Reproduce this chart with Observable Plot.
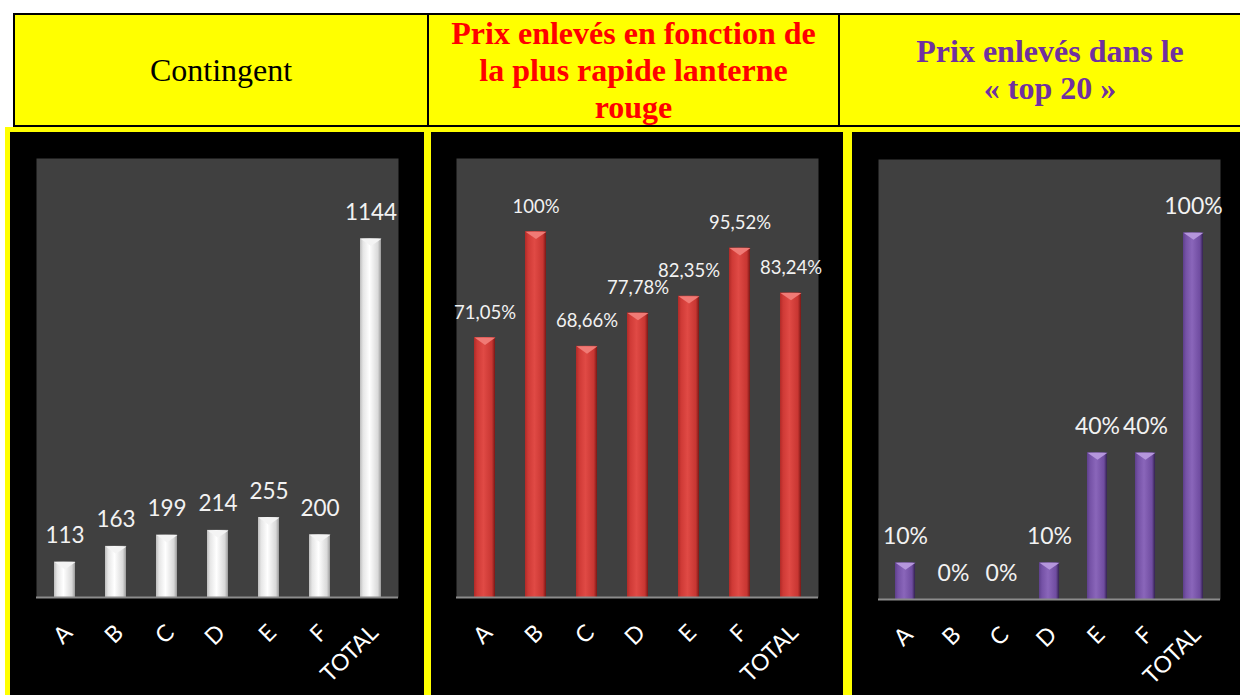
<!DOCTYPE html>
<html>
<head>
<meta charset="utf-8">
<script src="https://cdn.jsdelivr.net/npm/d3@7"></script>
<script src="https://cdn.jsdelivr.net/npm/@observablehq/plot@0.6"></script>
<style>
  html, body { margin: 0; padding: 0; background: #ffffff; width: 1240px; height: 695px; overflow: hidden; }
  #root { position: relative; width: 1240px; height: 695px; overflow: hidden; }
  #header { position: absolute; left: 13px; top: 13px; width: 1245px; height: 110px; border: 2px solid #000; background: #ffff00; }
  .cell { position: absolute; top: 0; height: 110px; display: flex; align-items: center; justify-content: center; text-align: center; font-family: "Liberation Serif", "Times New Roman", serif; }
  #c1 { left: 0; width: 412px; border-right: 2px solid #000; font-size: 32px; color: #000; }
  #c2 { left: 414px; width: 409px; border-right: 2px solid #000; font-size: 32px; font-weight: bold; color: #ff0000; line-height: 37px; }
  #c3 { left: 825px; width: 420px; font-size: 32px; font-weight: bold; color: #7030a0; line-height: 37px; }
  #panels { position: absolute; left: 5px; top: 127px; width: 1240px; height: 570px; background: #ffff00; }
  .plot { position: absolute; top: 132px; }
  .plot svg { display: block; }
</style>
</head>
<body>
<div id="root">
  <svg width="0" height="0" style="position:absolute">
    <defs>
      <linearGradient id="gWhite" x1="0" x2="1" y1="0" y2="0">
        <stop offset="0" stop-color="#bdbdbd"/>
        <stop offset="0.15" stop-color="#e6e6e6"/>
        <stop offset="0.45" stop-color="#ffffff"/>
        <stop offset="0.85" stop-color="#d9d9d9"/>
        <stop offset="1" stop-color="#9a9a9a"/>
      </linearGradient>
      <linearGradient id="gRed" x1="0" x2="1" y1="0" y2="0">
        <stop offset="0" stop-color="#b02a27"/>
        <stop offset="0.15" stop-color="#cf3a36"/>
        <stop offset="0.45" stop-color="#e04a45"/>
        <stop offset="0.85" stop-color="#c83632"/>
        <stop offset="1" stop-color="#7a1816"/>
      </linearGradient>
      <linearGradient id="gPurple" x1="0" x2="1" y1="0" y2="0">
        <stop offset="0" stop-color="#5e3f8c"/>
        <stop offset="0.15" stop-color="#7552a6"/>
        <stop offset="0.45" stop-color="#8a66ba"/>
        <stop offset="0.85" stop-color="#6f4ca0"/>
        <stop offset="1" stop-color="#33224f"/>
      </linearGradient>
    </defs>
  </svg>
  <div id="header">
    <div class="cell" id="c1">Contingent</div>
    <div class="cell" id="c2">Prix enlevés en fonction de<br>la plus rapide lanterne<br>rouge</div>
    <div class="cell" id="c3">Prix enlevés dans le<br>« top 20 »</div>
  </div>
  <div id="panels"></div>
  <div class="plot" id="p1" style="left:10px"></div>
  <div class="plot" id="p2" style="left:431px"></div>
  <div class="plot" id="p3" style="left:852px"></div>
</div>
<script>
const categories = ["A", "B", "C", "D", "E", "F", "TOTAL"];
const contingent = [113, 163, 199, 214, 255, 200, 1144];
const contingentLabels = ["113", "163", "199", "214", "255", "200", "1144"];
const rapide = [0.7105, 1.0, 0.6866, 0.7778, 0.8235, 0.9552, 0.8324];
const rapideLabels = ["71,05%", "100%", "68,66%", "77,78%", "82,35%", "95,52%", "83,24%"];
const top20 = [0.10, 0, 0, 0.10, 0.40, 0.40, 1.0];
const top20Labels = ["10%", "0%", "0%", "10%", "40%", "40%", "100%"];

// flat inverted triangle used as the bevel cap on top of each bar
const capSymbol = {
  draw(context, size) {
    const r = Math.sqrt(size / Math.PI);
    context.moveTo(-r, 0);
    context.lineTo(r, 0);
    context.lineTo(0, r * 0.7);
    context.closePath();
  }
};

function panel({values, labels, domain, grad, capFill, width, height, mt, mr, mb, ml, labelSize, capR}) {
  const data = categories.map((c, i) => ({cat: c, v: values[i], label: labels[i]}));
  return Plot.plot({
    width, height,
    marginTop: mt, marginRight: mr, marginBottom: mb, marginLeft: ml,
    style: {background: "#000000", fontFamily: "Lato, 'Open Sans', sans-serif", overflow: "visible"},
    x: {domain: categories, paddingInner: 0.59, paddingOuter: 0.295, axis: null},
    y: {domain, axis: null},
    marks: [
      Plot.frame({fill: "#404040", stroke: "none"}),
      Plot.barY(data, {x: "cat", y: "v", fill: `url(#${grad})`}),
      Plot.dot(data.filter(d => d.v > 0), {x: "cat", y: "v", symbol: capSymbol, r: capR, fill: capFill, stroke: "none"}),
      Plot.ruleY([0], {stroke: "#8c8c8c", strokeWidth: 2}),
      Plot.text(data, {x: "cat", y: "v", text: "label", dy: -19, lineAnchor: "bottom", fill: "#f2f2f2", fontSize: labelSize}),
      Plot.text(categories, {x: d => d, frameAnchor: "bottom", dy: 31.5, dx: 3.5, rotate: -45, textAnchor: "end", lineAnchor: "middle", fill: "#ffffff", fontSize: 23})
    ]
  });
}

document.getElementById("p1").append(panel({
  values: contingent, labels: contingentLabels, domain: [0, 1400], grad: "gWhite", capFill: "#f4f4f4",
  width: 414, height: 563, mt: 26, mr: 26, mb: 98, ml: 26, labelSize: 22.5, capR: 10.5
}));
document.getElementById("p2").append(panel({
  values: rapide, labels: rapideLabels, domain: [0, 1.2], grad: "gRed", capFill: "#f07a75",
  width: 412, height: 563, mt: 26, mr: 25, mb: 98, ml: 25, labelSize: 18.5, capR: 10.5
}));
document.getElementById("p3").append(panel({
  values: top20, labels: top20Labels, domain: [0, 1.2], grad: "gPurple", capFill: "#b596dc",
  width: 388, height: 563, mt: 27, mr: 20, mb: 96, ml: 26, labelSize: 23, capR: 10
}));
</script>
</body>
</html>
